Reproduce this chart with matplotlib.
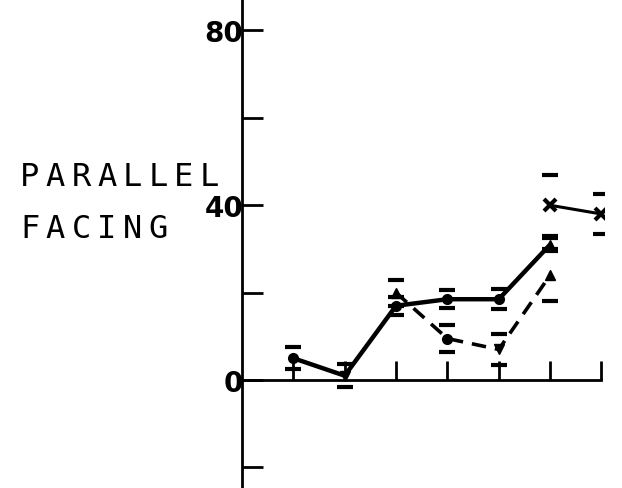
import matplotlib
matplotlib.use("Agg")
import matplotlib.pyplot as plt
import numpy as np

# session positions along the x axis
sessions = [1, 2, 3, 4, 5, 6, 7]

# solid line: first group
solid_x = [1, 2, 3, 4, 5, 6]
solid_y = [5, 1, 17, 18.5, 18.5, 31]
solid_err = [2.5, 2.7, 2.0, 2.0, 2.3, 1.5]
solid_markers = ["o", "v", "o", "o", "o", "^"]

# dashed line: second group
dash_x = [3, 4, 5, 6]
dash_y = [20, 9.5, 7, 24]
dash_err = [3.0, 3.0, 3.5, 6.0]
dash_markers = ["^", "o", "v", "^"]

# crosses joined by a solid line
cross_x = [6, 7]
cross_y = [40, 38]
cross_err = [7.0, 4.5]

y_ticks = [-20, 0, 20, 40, 60, 80]
y_labels = ["", "0", "", "40", "", "80"]

W, H = 622, 489
fig = plt.figure(figsize=(W / 100, H / 100), dpi=100)
ax = fig.add_axes([242 / W, 0, (604 - 242) / W, 1])
ax.set_xlim(0, 7.05)
ax.set_ylim(-24.7, 87.2)

ink = "black"
ax.plot(solid_x, solid_y, "-", color=ink, lw=3.2, zorder=3)
ax.plot(dash_x, dash_y, "--", color=ink, lw=2.6, dashes=(4, 2.5), zorder=3)
ax.plot(cross_x, cross_y, "-", color=ink, lw=2.2, zorder=3)

for x, y, m in zip(solid_x, solid_y, solid_markers):
    ax.plot(x, y, m, color=ink, ms=7, zorder=4)
for x, y, m in zip(dash_x, dash_y, dash_markers):
    ax.plot(x, y, m, color=ink, ms=7, zorder=4)
ax.plot(cross_x, cross_y, "x", color=ink, ms=9, mew=3, zorder=4)

# error limits drawn as short bars only
for xs, ys, es in [(solid_x, solid_y, solid_err),
                   (dash_x, dash_y, dash_err),
                   (cross_x, cross_y, cross_err)]:
    xs = np.array(xs)
    ys = np.array(ys)
    es = np.array(es)
    ax.plot(xs, ys + es, "_", color=ink, ms=11, mew=3, zorder=4)
    ax.plot(xs, ys - es, "_", color=ink, ms=11, mew=3, zorder=4)

for side in ["top", "right"]:
    ax.spines[side].set_visible(False)
ax.spines["left"].set_linewidth(2)
ax.spines["bottom"].set_position(("data", 0))
ax.spines["bottom"].set_bounds(0, 7)
ax.spines["bottom"].set_linewidth(2)

ax.set_xticks(sessions)
ax.set_xticklabels([])
ax.tick_params(axis="x", direction="in", length=14, width=2)

ax.set_yticks(y_ticks)
ax.set_yticklabels(y_labels, fontsize=20, fontweight="bold")
ax.tick_params(axis="y", direction="in", length=15, width=2, pad=-1)

# axis title, letters spaced on an even pitch
def spaced(word, left, baseline, pitch=25.6, size=23):
    for i, ch in enumerate(word):
        fig.text((left + pitch * (i + 0.5)) / W, 1 - baseline / H, ch,
                 ha="center", va="baseline", fontsize=size, color=ink,
                 family="DejaVu Sans Mono")

spaced("PARALLEL", 17, 186)
spaced("FACING", 17, 238)

fig.savefig("out.png", dpi=100)
